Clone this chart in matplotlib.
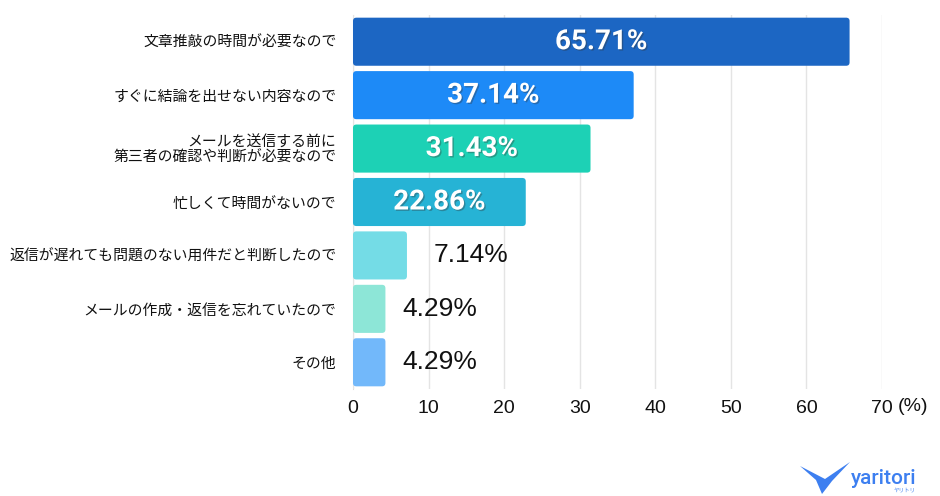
import matplotlib
matplotlib.use("Agg")
import matplotlib.pyplot as plt
import matplotlib.patheffects as pe
from matplotlib.patches import FancyBboxPatch, Polygon

plt.rcParams['font.family'] = ['Noto Sans CJK JP', 'DejaVu Sans']

# data
categories = [
    "文章推敲の時間が必要なので",
    "すぐに結論を出せない内容なので",
    "メールを送信する前に\n第三者の確認や判断が必要なので",
    "忙しくて時間がないので",
    "返信が遅れても問題のない用件だと判断したので",
    "メールの作成・返信を忘れていたので",
    "その他",
]
values = [65.71, 37.14, 31.43, 22.86, 7.14, 4.29, 4.29]
bar_colors = ["#1c66c3", "#1d8af7", "#1dd1b5", "#26b3d5", "#74dce6", "#8de6d7", "#72b8fa"]
inside = [True, True, True, True, False, False, False]
outside_pad = [0, 0, 0, 0, 27, 17, 17]  # px gap after bar end
xticks = [0, 10, 20, 30, 40, 50, 60, 70]

W, H = 940, 496
fig = plt.figure(figsize=(W / 100, H / 100), dpi=100)
ax_top, ax_bot = 15, 389
ax = fig.add_axes([353 / W, 1 - ax_bot / H, (882 - 353) / W, (ax_bot - ax_top) / H])

ypos = list(range(len(values)))
bars = ax.barh(ypos, values, height=0.9, color=bar_colors)

# swap plain rectangles for rounded ones
px_x = (882 - 353) / 70
px_y = (ax_bot - ax_top) / 7.0
for b in bars:
    b.set_visible(False)
    r = 0.45
    fb = FancyBboxPatch((b.get_x(), b.get_y()), b.get_width(), b.get_height(),
                        boxstyle=f"round,pad=0,rounding_size={r}",
                        mutation_aspect=px_x / px_y,
                        facecolor=b.get_facecolor(), edgecolor="none", zorder=3)
    ax.add_patch(fb)

ax.set_xlim(0, 70)
ax.set_ylim(6.5, -0.5)
ax.set_xticks(xticks)
ax.set_xticklabels([str(t) for t in xticks], fontsize=14, family=['Liberation Sans', 'DejaVu Sans'])
ax.set_yticks(ypos)
ax.set_yticklabels(categories, fontsize=10.7, linespacing=1.05, color='#111111')
ax.tick_params(axis='y', length=0, pad=12)
ax.tick_params(axis='x', length=0, pad=8, colors='#111111')
ax.grid(axis='x', color='#e4e4e4', linewidth=1, zorder=0)
ax.set_axisbelow(True)
for s in ['top', 'right', 'bottom']:
    ax.spines[s].set_visible(False)
ax.spines['left'].set_color('#dddddd')
ax.spines['left'].set_zorder(0)

ax.annotate("(%)", xy=(70, 0), xycoords=ax.get_xaxis_transform(),
            xytext=(11, -6.5), textcoords='offset points', ha='left', va='top',
            fontsize=14, family=['Liberation Sans', 'DejaVu Sans'], color='#111111')

for y, v, ins, gap in zip(ypos, values, inside, outside_pad):
    if ins:
        ax.text(v / 2, y, f"{v:.2f}%", ha='center', va='center', color='white',
                fontsize=20, fontweight='bold', family=['Roboto', 'DejaVu Sans'], zorder=5,
                path_effects=[pe.withSimplePatchShadow(offset=(1, -1), shadow_rgbFace='#333333', alpha=0.35)])
    else:
        ax.annotate(f"{v:.2f}%", xy=(v, y), xytext=(gap * 0.72, 0), textcoords='offset points',
                    ha='left', va='center', fontsize=19, color='#111111',
                    family=['Liberation Sans', 'DejaVu Sans'], zorder=5)

# logo
logo = Polygon([(800 / W, 1 - 466 / H), (825 / W, 1 - 479 / H), (850 / W, 1 - 462 / H),
                (832 / W, 1 - 481 / H), (822 / W, 1 - 494 / H), (816 / W, 1 - 480 / H)],
               closed=True, transform=fig.transFigure, facecolor='#3d7ff0', edgecolor='none')
fig.patches.append(logo)
fig.text(917 / W, 1 - 478 / H, "yaritori", ha='right', va='center', fontsize=15,
         color='#3d7ff0', family=['Roboto', 'DejaVu Sans'], fontweight='medium')
fig.text(905 / W, 1 - 491 / H, "ヤリトリ", ha='center', va='center', fontsize=4,
         color='#3d7ff0')

fig.savefig("out.png", dpi=100)
